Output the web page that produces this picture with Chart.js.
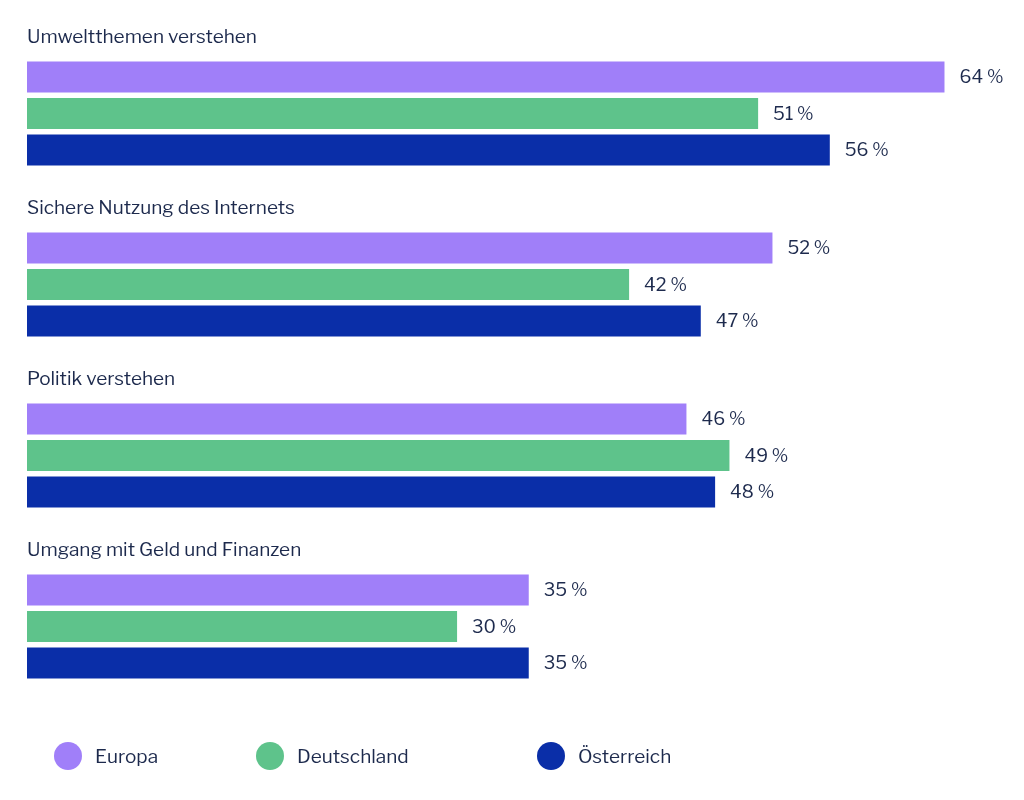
<!DOCTYPE html>
<html>
<head>
<meta charset="utf-8">
<script src="https://cdn.jsdelivr.net/npm/chart.js@4"></script>
<style>
  body { margin: 0; background: #fff; }
  #wrap { width: 1024px; height: 800px; }
</style>
</head>
<body>
<div id="wrap"><canvas id="c"></canvas></div>
<script>
const categories = ['Umweltthemen verstehen', 'Sichere Nutzung des Internets', 'Politik verstehen', 'Umgang mit Geld und Finanzen'];
const seriesNames = ['Europa', 'Deutschland', 'Österreich'];
const europa = [64, 52, 46, 35];
const deutschland = [51, 42, 49, 30];
const oesterreich = [56, 47, 48, 35];
const colors = ['#a07ff9', '#5ec38b', '#0a2ea8'];
const textColor = '#1d2a4d';
const font = '"Libre Franklin", "Noto Sans", sans-serif';

// labels above groups, values after bars, custom legend
const decor = {
  id: 'decor',
  afterDatasetsDraw(chart) {
    const ctx = chart.ctx;
    ctx.save();
    ctx.fillStyle = textColor;
    ctx.textBaseline = 'middle';

    ctx.font = '19px ' + font;
    const first = chart.getDatasetMeta(0).data;
    first.forEach((bar, i) => {
      const top = bar.y - bar.height / 2;
      ctx.textAlign = 'left';
      ctx.fillText(categories[i], 27, top - 24);
    });

    ctx.font = '18px ' + font;
    chart.data.datasets.forEach((ds, d) => {
      chart.getDatasetMeta(d).data.forEach((bar, i) => {
        ctx.textAlign = 'left';
        ctx.fillText(ds.data[i] + ' %', bar.x + 15, bar.y + 1);
      });
    });

    const lx = [68, 270, 551];
    ctx.font = '19px ' + font;
    seriesNames.forEach((name, d) => {
      ctx.fillStyle = colors[d];
      ctx.beginPath();
      ctx.arc(lx[d], 756, 14, 0, Math.PI * 2);
      ctx.fill();
      ctx.fillStyle = textColor;
      ctx.textAlign = 'left';
      ctx.fillText(name, lx[d] + 27, 757);
    });
    ctx.restore();
  }
};

new Chart(document.getElementById('c'), {
  type: 'bar',
  data: {
    labels: categories,
    datasets: [
      { label: seriesNames[0], data: europa, backgroundColor: colors[0] },
      { label: seriesNames[1], data: deutschland, backgroundColor: colors[1] },
      { label: seriesNames[2], data: oesterreich, backgroundColor: colors[2] }
    ]
  },
  options: {
    indexAxis: 'y',
    responsive: true,
    maintainAspectRatio: false,
    animation: false,
    layout: { padding: { left: 27, right: 15, top: 28, bottom: 88 } },
    datasets: { bar: { categoryPercentage: 0.64, barPercentage: 0.85 } },
    scales: {
      x: { display: false, min: 0, max: 68.5 },
      y: { display: false }
    },
    plugins: { legend: { display: false }, tooltip: { enabled: false } }
  },
  plugins: [decor]
});
</script>
</body>
</html>
